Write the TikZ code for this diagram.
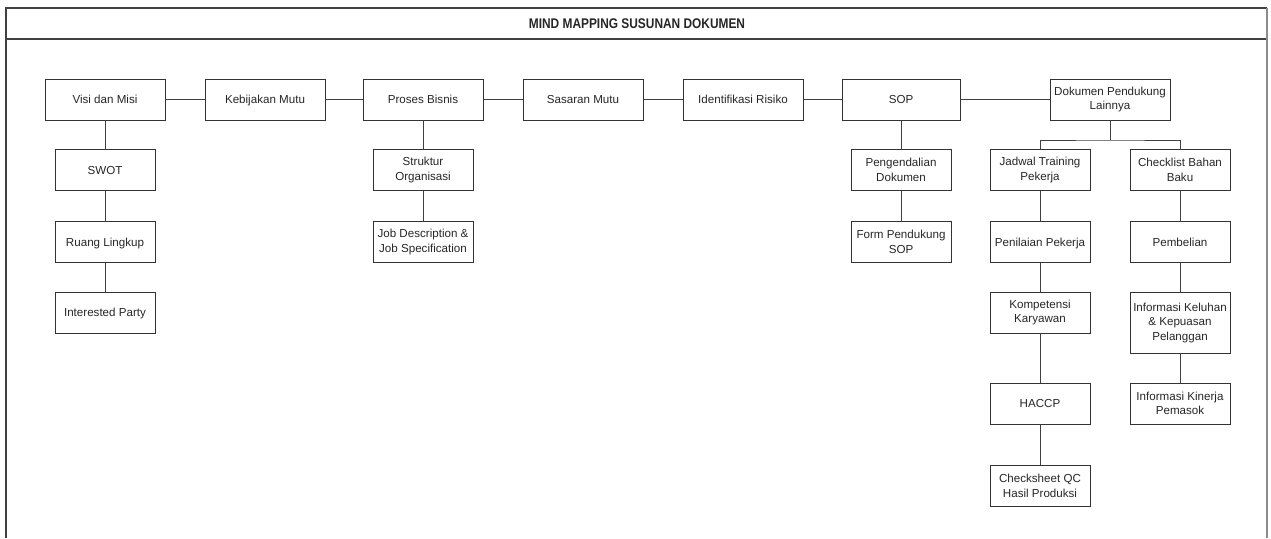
\documentclass[tikz,border=0pt]{standalone}
\usepackage{fontspec}
\setmainfont{Liberation Sans}
\usepackage{graphicx}
\begin{document}
\begin{tikzpicture}[x=1pt,y=-1pt,
  box/.style={draw=black!80, line width=0.9pt, rectangle, inner sep=1pt, align=center,
    text=black!85, font=\fontsize{11.6}{14.5}\selectfont, minimum height=41pt},
  wbox/.style={box, minimum width=120pt},
  nbox/.style={box, minimum width=100pt},
  one/.style={text height=8.3pt, text depth=0pt},
  link/.style={draw=black!75, line width=0.9pt},
  frame/.style={draw=black!75, line width=1.6pt}]
\useasboundingbox (0,0) rectangle (1271,538);
% frame
\draw[frame] (6,538) -- (6,8) -- (1267,8);
\draw[frame] (6,39) -- (1267,39);
\draw[draw=black!45, line width=1.6pt] (1267,8) -- (1267,538);
\node (title) at (637,23.5) {\scalebox{0.85}[1]{\fontsize{14}{16}\selectfont\bfseries\color{black!85}MIND MAPPING SUSUNAN DOKUMEN}};
% row 1
\node[wbox, one] (visi) at (105,99.5) {Visi dan Misi};
\node[wbox, one] (kebijakan) at (265,99.5) {Kebijakan Mutu};
\node[wbox, one] (proses) at (423,99.5) {Proses Bisnis};
\node[wbox, one] (sasaran) at (583,99.5) {Sasaran Mutu};
\node[wbox, one] (identifikasi) at (743,99.5) {Identifikasi Risiko};
\node[box, one, minimum width=118pt] (sop) at (901,99.5) {SOP};
\node[wbox] (dok) at (1110,99.5) {Dokumen Pendukung\\Lainnya};
% column Visi
\node[nbox, one] (swot) at (105,170) {SWOT};
\node[nbox, one] (ruang) at (105,242) {Ruang Lingkup};
\node[nbox, one] (interested) at (105,312.5) {Interested Party};
% column Proses
\node[nbox] (struktur) at (423,170) {Struktur\\Organisasi};
\node[nbox] (jobdesc) at (423,242) {Job Description \&\\Job Specification};
% column SOP
\node[nbox] (pengendalian) at (901,170) {Pengendalian\\Dokumen};
\node[nbox] (form) at (901,242) {Form Pendukung\\SOP};
% column Jadwal
\node[nbox] (jadwal) at (1040,170) {Jadwal Training\\Pekerja};
\node[nbox, one] (penilaian) at (1040,242) {Penilaian Pekerja};
\node[nbox] (kompetensi) at (1040,312.5) {Kompetensi\\Karyawan};
\node[nbox, one] (haccp) at (1040,403.5) {HACCP};
\node[nbox] (checksheet) at (1040,486) {Checksheet QC\\Hasil Produksi};
% column Checklist
\node[nbox] (checklist) at (1180,170) {Checklist Bahan\\Baku};
\node[nbox, one] (pembelian) at (1180,242) {Pembelian};
\node[nbox, minimum height=61pt] (keluhan) at (1180,322.5) {Informasi Keluhan\\\& Kepuasan\\Pelanggan};
\node[nbox] (kinerja) at (1180,403.5) {Informasi Kinerja\\Pemasok};
% connectors
\draw[link] (visi) -- (kebijakan);
\draw[link] (kebijakan) -- (proses);
\draw[link] (proses) -- (sasaran);
\draw[link] (sasaran) -- (identifikasi);
\draw[link] (identifikasi) -- (sop);
\draw[link] (sop) -- (dok.west |- sop);
\draw[link] (visi) -- (swot);
\draw[link] (swot) -- (ruang);
\draw[link] (ruang) -- (interested);
\draw[link] (proses) -- (struktur);
\draw[link] (struktur) -- (jobdesc);
\draw[link] (sop) -- (pengendalian);
\draw[link] (pengendalian) -- (form);
\coordinate (br) at (1110,140);
\draw[link] (dok) -- (br);
\draw[link] (jadwal.north) |- (br) -| (checklist.north);
\draw[link] (jadwal) -- (penilaian);
\draw[link] (penilaian) -- (kompetensi);
\draw[link] (kompetensi) -- (haccp);
\draw[link] (haccp) -- (checksheet);
\draw[link] (checklist) -- (pembelian);
\draw[link] (pembelian) -- (keluhan);
\draw[link] (keluhan) -- (kinerja);
\end{tikzpicture}
\end{document}
